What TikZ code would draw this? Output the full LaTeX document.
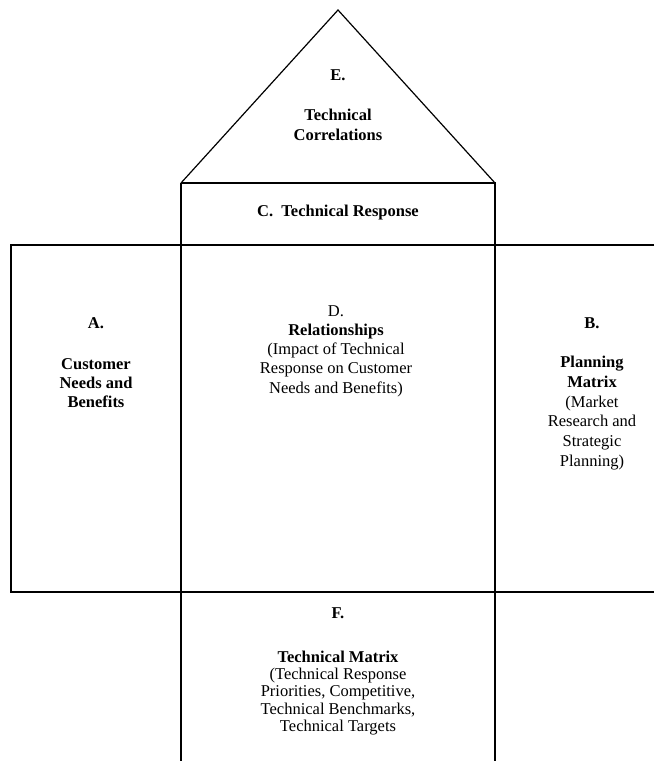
\documentclass[tikz,border=0pt]{standalone}
\usepackage{fontspec}
\setmainfont{Liberation Serif}
\begin{document}
\begin{tikzpicture}[x=1pt,y=-1pt,
  frame/.style={line width=1.2pt,black},
  label/.style={inner sep=0pt,align=center,font=\fontsize{16.5}{19.3}\selectfont},
  tightlabel/.style={inner sep=0pt,align=center,font=\fontsize{16.5}{17.4}\selectfont}]
\useasboundingbox (0,0) rectangle (654,761);
% key corners of the house
\coordinate (apex) at (338,10);
\coordinate (roofL) at (181,183);
\coordinate (roofR) at (495,183);
\coordinate (rowTL) at (11,245);
\coordinate (rowBL) at (11,592);
\coordinate (rowTR) at (654,245);
\coordinate (rowBR) at (654,592);
\coordinate (midTL) at (181,245);
\coordinate (midTR) at (495,245);
\coordinate (midBL) at (181,592);
\coordinate (midBR) at (495,592);
\coordinate (footL) at (181,761);
\coordinate (footR) at (495,761);
% roof
\draw[frame] (roofL) -- (apex) -- (roofR);
% technical response box
\draw[frame] (roofL) -- (roofR) -- (midTR);
\draw[frame] (roofL) -- (midTL);
% main row
\draw[frame] (rowTR) -- (rowTL) -- (rowBL) -- (rowBR);
% columns down to the foot
\draw[frame] (midTL) -- (footL);
\draw[frame] (midTR) -- (footR);

% texts
\node[label,font=\fontsize{16.5}{19.3}\selectfont\bfseries] (eHead) at (338,75) {E.};
\node[label,font=\fontsize{16.5}{19.3}\selectfont\bfseries] (eBody) at (338,125) {Technical\\Correlations};
\node[label,font=\fontsize{16.5}{19.3}\selectfont\bfseries] (cText) at (338,213) {C.\ \ Technical Response};
\node[label,font=\fontsize{16.5}{19.3}\selectfont\bfseries] (aHead) at (96,323) {A.};
\node[label,font=\fontsize{16.5}{19.3}\selectfont\bfseries] (aBody) at (96,383) {Customer\\Needs and\\Benefits};
\node[label] (dText) at (336,351) {D.\\\textbf{Relationships}\\(Impact of Technical\\Response on Customer\\Needs and Benefits)};
\node[label,font=\fontsize{16.5}{19.3}\selectfont\bfseries] (bHead) at (592,323) {B.};
\node[label,font=\fontsize{16.5}{19.8}\selectfont] (bBody) at (592,413) {\textbf{Planning}\\\textbf{Matrix}\\(Market\\Research and\\Strategic\\Planning)};
\node[label,font=\fontsize{16.5}{19.3}\selectfont\bfseries] (fHead) at (338,613) {F.};
\node[tightlabel] (fBody) at (338,693) {\textbf{Technical Matrix}\\(Technical Response\\Priorities, Competitive,\\Technical Benchmarks,\\Technical Targets};
\end{tikzpicture}
\end{document}
